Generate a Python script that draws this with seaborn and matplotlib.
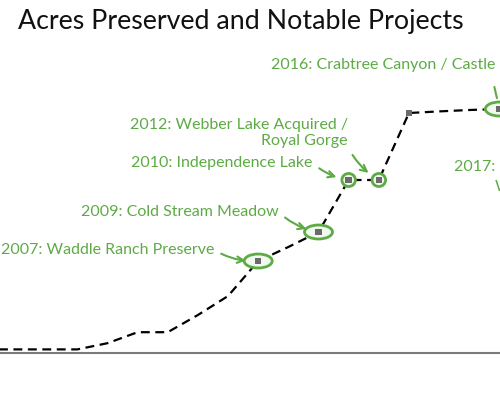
import numpy as np
import pandas as pd
import seaborn as sns
import matplotlib.pyplot as plt
from matplotlib.patches import Ellipse

# acres preserved (thousands), one value per period shown in the chart
periods = list(range(18))
acres = [0.18, 0.18, 0.18, 0.18, 0.49, 1.04, 1.04, 1.9, 2.85, 4.6, 5.3,
         6.05, 8.65, 8.65, 12.0, 12.08, 12.15, 12.2]

# periods that get a square marker
marked = [9, 11, 12, 13, 14, 17]

# notable projects: period, label
project_idx = [9, 11, 12, 13, 17]
project_labels = ["2007: Waddle Ranch Preserve",
                  "2009: Cold Stream Meadow",
                  "2010: Independence Lake",
                  "2012: Webber Lake Acquired /\nRoyal Gorge",
                  "2016: Crabtree Canyon / Castle Peak"]

green = "#5dab45"

sns.set_style("white")
plt.rcParams['font.family'] = ['Lato', 'DejaVu Sans']

df = pd.DataFrame({'period': periods, 'acres': acres})
dm = df[df.period.isin(marked)]

fig = plt.figure(figsize=(5, 3.94), dpi=100)
ax = fig.add_axes([0, 41/394, 1, 353/394])

sns.lineplot(data=df, x='period', y='acres', ax=ax, color='black',
             linestyle='--', linewidth=1.6, dashes=False)
ax.lines[0].set_dashes((4, 2.5))

# highlight ellipses behind the markers
ell_size = {9: (0.93, 0.7), 11: (0.93, 0.7), 12: (0.45, 0.65),
            13: (0.45, 0.65), 17: (0.93, 0.7)}
for i, (w, h) in ell_size.items():
    ax.add_patch(Ellipse((periods[i], acres[i]), w, h, facecolor="#f1f8ee",
                         edgecolor=green, lw=2, zorder=3))

sns.scatterplot(data=dm, x='period', y='acres', ax=ax, marker='s', s=22,
                color='#6b6b6b', edgecolor='none', zorder=4)

# label offsets in pixels (text anchor relative to point)
offsets = {9: (-44, 11, 'right', 'center', (1, 0.5)),
           11: (-40, 20, 'right', 'center', (1, 0.5)),
           12: (-36, 17, 'right', 'center', (1, 0.5)),
           13: (-31, 47, 'right', 'center', (1, 0.05)),
           17: (-228, 44, 'left', 'center', (1, 0.5))}
for i, lab in zip(project_idx, project_labels):
    dx, dy, ha, va, rp = offsets[i]
    if i == 17:
        ax.annotate(lab, (periods[i], acres[i]), xytext=(dx, dy),
                    textcoords='offset pixels', ha=ha, va=va, color=green,
                    fontsize=11.5, annotation_clip=False)
        ax.annotate("", (periods[i], acres[i]), xytext=(-5, 22),
                    textcoords='offset pixels',
                    arrowprops=dict(arrowstyle='-', color=green, lw=1.5,
                                    shrinkA=0, shrinkB=8))
        continue
    ax.annotate(lab, (periods[i], acres[i]), xytext=(dx, dy),
                textcoords='offset pixels', ha=ha, va=va, color=green,
                fontsize=11.5, multialignment='right',
                arrowprops=dict(arrowstyle='->', color=green, lw=1.5,
                                relpos=rp, shrinkA=3, shrinkB=9,
                                connectionstyle='arc3,rad=0.15'))

# next project, running off the right edge
ax.annotate("2017: C", (periods[17], acres[17]), xytext=(-45, -58),
            textcoords='offset pixels', ha='left', va='center', color=green,
            fontsize=11.5, annotation_clip=False)
ax.annotate("W", (periods[17], acres[17]), xytext=(-5, -78),
            textcoords='offset pixels', ha='left', va='center', color=green,
            fontsize=11.5, annotation_clip=False)

ax.set_xlim(1 - 17/30.15, 1 + 483/30.15)
ax.set_ylim(0, 353/20)
for s in ['top', 'left', 'right']:
    ax.spines[s].set_visible(False)
ax.spines['bottom'].set_color('#7a7a7a')
ax.spines['bottom'].set_linewidth(1.5)
ax.set_xticks([])
ax.set_yticks([])
ax.set_xlabel('')
ax.set_ylabel('')

fig.text(18/500, 1 - 22/394, "Acres Preserved and Notable Projects",
         ha='left', va='center', fontsize=19.3, color='#111111')

fig.savefig('out.png', dpi=100)
